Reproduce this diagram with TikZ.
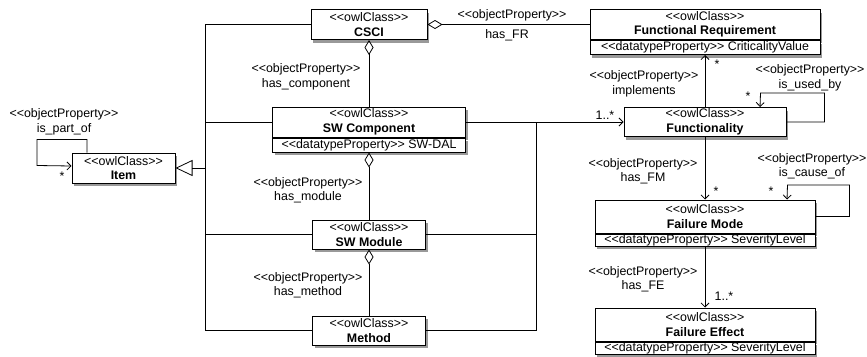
\documentclass[tikz,border=0pt]{standalone}
\usepackage{fontspec}
\setmainfont{Liberation Sans}
\usetikzlibrary{arrows.meta,shadows}

\newcommand\stereo[1]{<\kern0pt<#1>\kern0pt>}

\tikzset{
  uml/.style={font=\fontsize{12.4}{14.5}\selectfont},
  cls/.style={uml, draw, line width=1pt, fill=white, align=center, inner sep=0pt, minimum height=30pt,
    drop shadow={shadow xshift=2pt, shadow yshift=-3pt, opacity=0.4, fill=black}},
  attr/.style={cls, anchor=north, minimum height=14pt},
  lbl/.style={uml, align=center, inner sep=0pt},
  link/.style={line width=0.8pt},
  agg/.style={link, {Diamond[open,length=15pt,width=9pt]}-},
  nav/.style={link, -{Straight Barb[length=4pt,width=8pt]}},
  isa/.style={link, -{Triangle[open,length=17pt,width=16pt]}}
}

\begin{document}
\begin{tikzpicture}[x=1pt,y=-1pt]
   \useasboundingbox (0,0) rectangle (867,356);
   \node[cls, minimum width=103pt] (item) at (123.5,168) {\stereo{owlClass}\\\textbf{Item}};
   \node[cls, minimum width=116pt] (csci) at (369,24.5) {\stereo{owlClass}\\\textbf{CSCI}};
   \node[cls, minimum width=193pt] (swc) at (369,122) {\stereo{owlClass}\\\textbf{SW Component}};
   \node[attr, minimum width=193pt] (swc-a) at (swc.south) {\stereo{datatypeProperty} SW-DAL};
   \node[cls, minimum width=113pt, minimum height=29pt] (swm) at (369,234.5) {\stereo{owlClass}\\\textbf{SW Module}};
   \node[cls, minimum width=113pt, minimum height=29pt] (meth) at (369,330.5) {\stereo{owlClass}\\\textbf{Method}};
   \node[cls, minimum width=230pt] (fr) at (705,24.5) {\stereo{owlClass}\\\textbf{Functional Requirement}};
   \node[attr, minimum width=230pt] (fr-a) at (fr.south) {\stereo{datatypeProperty} CriticalityValue};
   \node[cls, minimum width=162pt, minimum height=29pt] (fn) at (705,122) {\stereo{owlClass}\\\textbf{Functionality}};
   \node[cls, minimum width=220pt, minimum height=33pt] (fm) at (705,216.5) {\stereo{owlClass}\\\textbf{Failure Mode}};
   \node[attr, minimum width=220pt, minimum height=12pt] (fm-a) at (fm.south) {\stereo{datatypeProperty} SeverityLevel};
   \node[cls, minimum width=220pt, minimum height=33pt] (fe) at (705,324.5) {\stereo{owlClass}\\\textbf{Failure Effect}};
   \node[attr, minimum width=220pt, minimum height=12pt] (fe-a) at (fe.south) {\stereo{datatypeProperty} SeverityLevel};

   \coordinate (gen) at (205,168);
   \coordinate (bus) at (536,122);
   \draw[link] (csci.west) -| (gen |- meth.west) -- (meth.west);
   \draw[link] (swc.west) -- (swc.west -| gen);
   \draw[link] (swm.west) -- (swm.west -| gen);
   \draw[isa] (gen) -- (item.east);
   \draw[link] (bus) |- (meth.east);
   \draw[link] (swm.east) -- (swm.east -| bus);
   \draw[nav] (swc.east) -- (fn.west);

   \draw[agg] (csci.east) -- (fr.west);
   \draw[agg] (csci.south) -- (swc.north);
   \draw[agg] (swc-a.south) -- (swm.north);
   \draw[agg] (swm.south) -- (meth.north);
   \draw[nav] (fn.north) -- (fr-a.south);
   \draw[nav] (fn.south) -- (fm.north);
   \draw[nav] (fm-a.south) -- (fe.north);

   \draw[nav] ([xshift=-36.5pt]item.north) -- ++(0,-13) -- ++(-50,0) -- ++(0,26) -- ([yshift=2pt]item.west);
   \draw[nav] (fn.east) -- ++(38,0) -- ++(0,-29) -- ++(-64,0) -- ([xshift=55pt]fn.north);
   \draw[nav] (fm.east) -- ++(34,0) -- ++(0,-31.5) -- ++(-62,0) -- ([xshift=82pt]fm.north);

   \node[lbl] (l-part) at (64,122) {\stereo{objectProperty}\\is\_part\_of};
   \node[lbl] (m-part) at (62,176) {*};
   \node[lbl] (l-fr1) at (512,15) {\stereo{objectProperty}};
   \node[lbl] (l-fr2) at (507,35) {has\_FR};
   \node[lbl] (l-comp) at (306,77) {\stereo{objectProperty}\\has\_component};
   \node[lbl] (l-mod) at (308,190) {\stereo{objectProperty}\\has\_module};
   \node[lbl] (l-meth) at (308,285) {\stereo{objectProperty}\\has\_method};
   \node[lbl] (l-impl) at (644,84) {\stereo{objectProperty}\\implements};
   \node[lbl] (m-impl) at (717,64) {*};
   \node[lbl] (m-fn) at (605,115) {1..*};
   \node[lbl] (l-used) at (810,78) {\stereo{objectProperty}\\is\_used\_by};
   \node[lbl] (m-used) at (748,96) {*};
   \node[lbl] (l-fm) at (643,171) {\stereo{objectProperty}\\has\_FM};
   \node[lbl] (m-fm) at (716,191) {*};
   \node[lbl] (l-cause) at (812,166) {\stereo{objectProperty}\\is\_cause\_of};
   \node[lbl] (m-cause) at (771,191) {*};
   \node[lbl] (l-fe) at (643,279) {\stereo{objectProperty}\\has\_FE};
   \node[lbl] (m-fe) at (724,296) {1..*};
 \end{tikzpicture}
\end{document}
